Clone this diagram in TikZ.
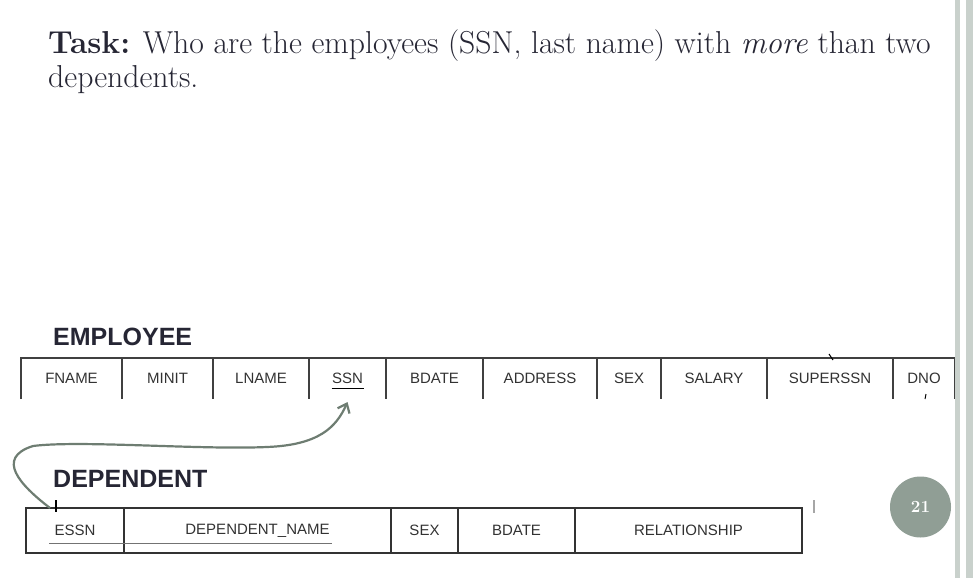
\documentclass[tikz,border=0pt]{standalone}
\usepackage{fontspec}
\newfontfamily\tabfont{Liberation Sans}
\usepackage{tikz}
\usetikzlibrary{arrows.meta}
\definecolor{arrowgreen}{RGB}{110,125,114}
\definecolor{pagegreen}{RGB}{144,158,149}
\definecolor{barg}{RGB}{201,209,204}
\definecolor{inkdark}{RGB}{38,38,52}
\definecolor{cellink}{RGB}{50,50,50}
\tikzset{
    cell/.style = {rectangle, inner sep=0pt, outer sep=0pt, font=\tabfont\fontsize{15}{15}\selectfont, text=cellink},
    ecell/.style = {cell, minimum height=41},
    dcell/.style = {cell, draw=black!80, line width=1.3pt, minimum height=45},
    rule/.style = {draw=black!75, line width=1.3pt},
    relname/.style = {anchor=west, inner sep=0pt, font=\tabfont\bfseries\fontsize{25}{25}\selectfont, text=inkdark},
    edgefk/.style = {-{Straight Barb[length=8pt,width=13pt]}, line width=2.2pt, arrowgreen},
    keyline/.style = {line width=1pt},
    pagenum/.style = {circle, fill=pagegreen, minimum size=61pt, inner sep=0pt, text=white, font=\bfseries\fontsize{17}{17}\selectfont},
    bar/.style = {fill=barg, draw=none}
}

\begin{document}
\begin{tikzpicture}[x=1pt,y=-1pt]
\useasboundingbox (0,0) rectangle (976,578);
\node[anchor=north west, align=left, inner sep=0pt, text=inkdark, font=\fontsize{31.7}{34}\selectfont] at (48,29.5) (task)
  {\textbf{Task:} Who are the employees (SSN, last name) with \emph{more} than two\\dependents.};
%
\node[relname] at (53,337) (emplabel) {EMPLOYEE};
\node[ecell, minimum width=101] at (71.5,378.5) (fname) {FNAME};
\node[ecell, minimum width=91] at (167.5,378.5) (minit) {MINIT};
\node[ecell, minimum width=96] at (261.0,378.5) (lname) {LNAME};
\node[ecell, minimum width=77] at (347.5,378.5) (ssn) {SSN};
\node[ecell, minimum width=97] at (434.5,378.5) (bdate) {BDATE};
\node[ecell, minimum width=114] at (540.0,378.5) (address) {ADDRESS};
\node[ecell, minimum width=64] at (629.0,378.5) (sex) {SEX};
\node[ecell, minimum width=106] at (714.0,378.5) (salary) {SALARY};
\node[ecell, minimum width=126] at (830.0,378.5) (superssn) {SUPERSSN};
\node[ecell, minimum width=62] at (924.0,378.5) (dno) {DNO};
\draw[rule] (fname.south west) -- (fname.north west) -- (dno.north east) -- (dno.south east);
\draw[rule] (minit.north west) -- (minit.south west) (lname.north west) -- (lname.south west)
  (ssn.north west) -- (ssn.south west) (bdate.north west) -- (bdate.south west)
  (address.north west) -- (address.south west) (sex.north west) -- (sex.south west)
  (salary.north west) -- (salary.south west) (superssn.north west) -- (superssn.south west)
  (dno.north west) -- (dno.south west);
\draw[keyline] ([xshift=-16pt,yshift=-9.5pt]ssn.center) -- ([xshift=16pt,yshift=-9.5pt]ssn.center);
\draw[line width=1pt] (829,354) -- (833,360);
\draw[line width=1pt] (926,394) -- (925,399);
%
\node[relname] at (53,479) (deplabel) {DEPENDENT};
\node[dcell, minimum width=98] at (75.0,530.5) (essn) {ESSN};
\node[dcell, minimum width=267] at (257.5,530.5) (dname) {DEPENDENT\_NAME};
\node[dcell, minimum width=67] at (424.5,530.5) (dsex) {SEX};
\node[dcell, minimum width=117] at (516.5,530.5) (dbdate) {BDATE};
\node[dcell, minimum width=227] at (688.5,530.5) (relship) {RELATIONSHIP};
\draw[keyline, black!55] ([xshift=23pt,yshift=10pt]essn.south west) -- ([xshift=-59pt,yshift=10pt]dname.south east);
\draw[line width=1.3pt] (56,500) -- (56,512);
\draw[line width=1.3pt, black!35] (814,500) -- (814,513);
%
\draw[edgefk] ([xshift=24pt]essn.north west) .. controls (20,485) and (-5,458) .. (33,446)
  .. controls (80,440) and (200,450) .. (267,447) .. controls (318,445) and (336,428) .. ([yshift=-3pt]ssn.south);
%
\node[pagenum] at (920.5,507) (page) {21};
\fill[bar] (955,0) rectangle (960,578);
\fill[bar] (966,0) rectangle (973,578);
\end{tikzpicture}
\end{document}
